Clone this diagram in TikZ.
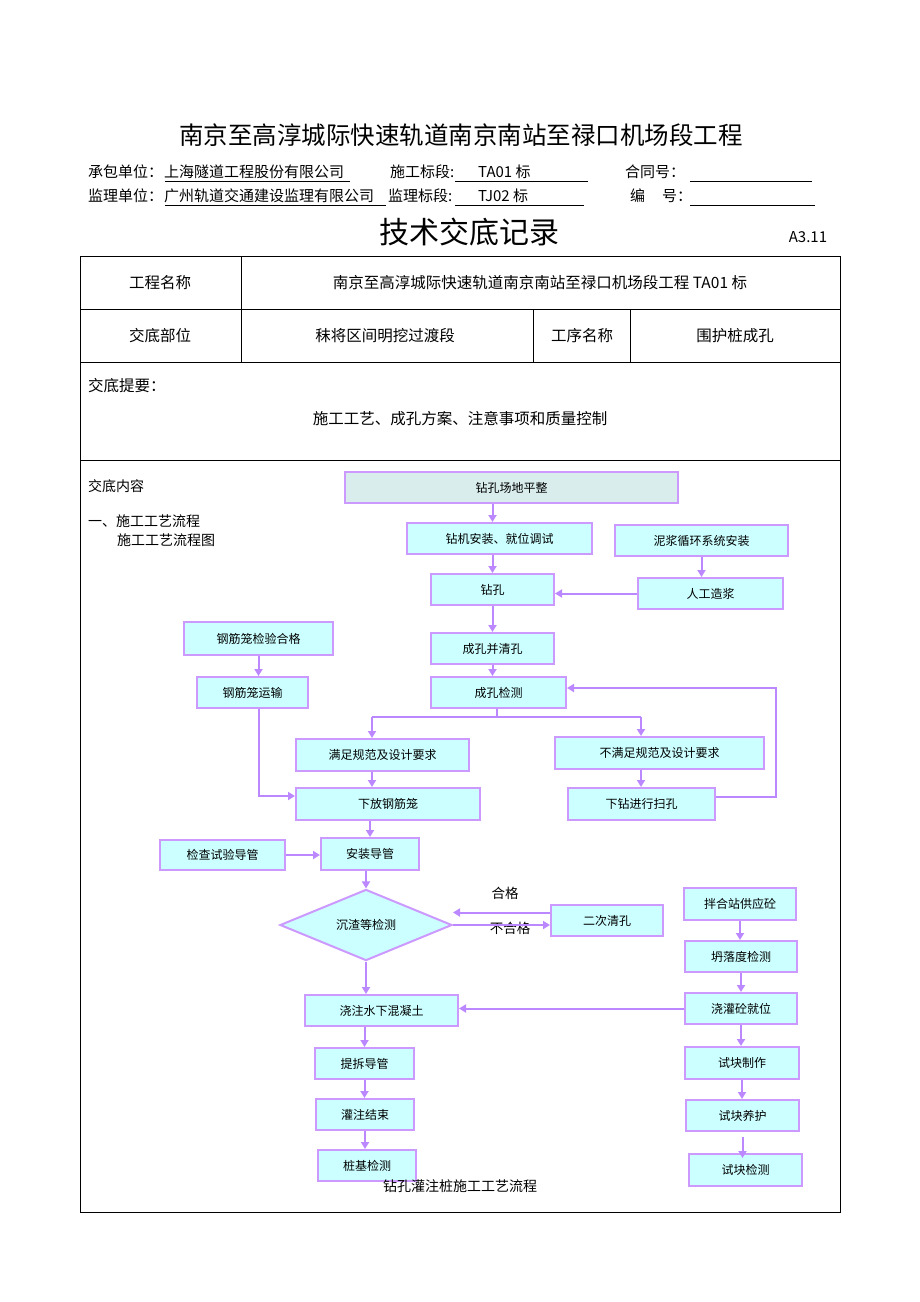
\documentclass[tikz,border=0pt]{standalone}
\usepackage{fontspec}
\setmainfont{Noto Sans CJK SC}
\usepackage{tikz}
\usetikzlibrary{arrows.meta,shapes.geometric}
\definecolor{boxfill}{HTML}{CCFFFF}
\definecolor{topfill}{HTML}{D9EDED}
\definecolor{boxline}{HTML}{CC99FF}
\definecolor{arrowline}{HTML}{BB88FF}
\tikzstyle{box}   = [draw=boxline,fill=boxfill,line width=2pt,inner sep=0pt,minimum height=31pt,font=\fontsize{12}{14}\selectfont]
\tikzstyle{arrow} = [line width=2pt,draw=arrowline,-{Triangle[length=7pt,width=8pt]}]
\tikzstyle{link}  = [line width=2pt,draw=arrowline]
\tikzstyle{cell}  = [font=\fontsize{15.5}{18}\selectfont]
\tikzstyle{head}  = [anchor=west,inner sep=0pt,font=\fontsize{15}{18}\selectfont]
\tikzstyle{note}  = [anchor=west,inner sep=0pt,font=\fontsize{14}{17}\selectfont]

\begin{document}
\begin{tikzpicture}[x=1pt,y=-1pt]
           \useasboundingbox (0,0) rectangle (920,1302);
           \fill[white] (0,0) rectangle (920,1302);
           \node[font=\fontsize{24.5}{28}\selectfont](title)at(461,135){南京至高淳城际快速轨道南京南站至禄口机场段工程};
           \node[head](h1)at(88,172){承包单位：};
           \node[head](h2)at(164,172){上海隧道工程股份有限公司};
           \node[head](h3)at(390,172){施工标段:};
           \node[head](h4)at(478,172){TA01 标};
           \node[head](h5)at(625,172){合同号：};
           \node[head](h6)at(88,196){监理单位：};
           \node[head](h7)at(164,196){广州轨道交通建设监理有限公司};
           \node[head](h8)at(388,196){监理标段:};
           \node[head](h9)at(478,196){TJ02 标};
           \node[head](h10)at(630,196){编\hspace{17pt}号：};
           \draw (165,181) -- (350,181);
           \draw (455,181) -- (588,181);
           \draw (690,181) -- (812,181);
           \draw (165,205) -- (386,205);
           \draw (455,205) -- (584,205);
           \draw (690,205) -- (815,205);
           \node[font=\fontsize{30}{34}\selectfont](t)at(469,232){技术交底记录};
           \node[font=\fontsize{15}{18}\selectfont](code)at(808,237){A3.11};

           \draw[line width=1pt] (80,256) rectangle (840,1212);
           \draw (80,309) -- (840,309);
           \draw (80,362) -- (840,362);
           \draw (80,460) -- (840,460);
           \draw (241,256) -- (241,362);
           \draw (533,309) -- (533,362);
           \draw (630,309) -- (630,362);
           \node[cell](c1)at(160,283){工程名称};
           \node[cell](c2)at(540,283){南京至高淳城际快速轨道南京南站至禄口机场段工程 TA01 标};
           \node[cell](c3)at(160,336){交底部位};
           \node[cell](c4)at(385,336){秣将区间明挖过渡段};
           \node[cell](c5)at(582,336){工序名称};
           \node[cell](c6)at(735,336){围护桩成孔};
           \node[cell,anchor=west,inner sep=0pt](c7)at(88,386){交底提要：};
           \node[cell](c8)at(460,419){施工工艺、成孔方案、注意事项和质量控制};
           \node[note](c9)at(88,486){交底内容};
           \node[note](c10)at(88,521){一、施工工艺流程};
           \node[note](c11)at(117,540){施工工艺流程图};

           \node[box,fill=topfill,minimum width=333pt](a)at(511.5,487.5){钻孔场地平整};
           \node[box,minimum width=185pt](b)at(499.5,538.5){钻机安装、就位调试};
           \node[box,minimum width=173pt](c)at(701.5,540.5){泥浆循环系统安装};
           \node[box,minimum width=123pt](d)at(492.5,589.5){钻孔};
           \node[box,minimum width=145pt](e)at(710.5,593.5){人工造浆};
           \node[box,minimum width=149pt,minimum height=33pt](f)at(258.5,638.5){钢筋笼检验合格};
           \node[box,minimum width=123pt](g)at(492.5,648.5){成孔并清孔};
           \node[box,minimum width=111pt](h)at(252.5,692.5){钢筋笼运输};
           \node[box,minimum width=135pt](i)at(498.5,692.5){成孔检测};
           \node[box,minimum width=173pt,minimum height=32pt](j)at(382.5,755){满足规范及设计要求};
           \node[box,minimum width=209pt,minimum height=32pt](k)at(659.5,753){不满足规范及设计要求};
           \node[box,minimum width=184pt,minimum height=32pt](l)at(388,804){下放钢筋笼};
           \node[box,minimum width=147pt,minimum height=32pt](m)at(641.5,804){下钻进行扫孔};
           \node[box,minimum width=125pt,minimum height=30pt](n)at(222.5,855){检查试验导管};
           \node[box,minimum width=98pt,minimum height=32pt](o)at(370,854){安装导管};
           \node[box,shape=diamond,minimum width=172pt,minimum height=60pt](p)at(366,925){沉渣等检测};
           \node[box,minimum width=112pt](q)at(607,920.5){二次清孔};
           \node[box,minimum width=112pt,minimum height=32pt](r)at(740,904){拌合站供应砼};
           \node[box,minimum width=112pt](s)at(741,956.5){坍落度检测};
           \node[box,minimum width=112pt](tt)at(741,1008.5){浇灌砼就位};
           \node[box,minimum width=153pt](u)at(381.5,1010.5){浇注水下混凝土};
           \node[box,minimum width=99pt](v)at(364.5,1063.5){提拆导管};
           \node[box,minimum width=98pt](w)at(365,1114.5){灌注结束};
           \node[box,minimum width=98pt](x)at(367,1165.5){桩基检测};
           \node[box,minimum width=114pt,minimum height=32pt](y)at(742,1063){试块制作};
           \node[box,minimum width=113pt](z)at(742.5,1115.5){试块养护};
           \node[box,minimum width=113pt,minimum height=32pt](za)at(745.5,1170){试块检测};
           \node[font=\fontsize{13.5}{16}\selectfont](ok)at(505,893){合格};
           \node[font=\fontsize{13.5}{16}\selectfont](nok)at(510,928){不合格};
           \node[font=\fontsize{14}{17}\selectfont](cap)at(460,1186){钻孔灌注桩施工工艺流程};
           \coordinate (s0) at (497,717);
           \coordinate (s1) at (372,717);
           \coordinate (s2) at (641,717);
           \coordinate (lp) at (776,688);

           \draw[arrow](a.south-|d)--(b.north-|d);
           \draw[arrow](b.south-|d)--(d.north);
           \draw[arrow](d.south)--(g.north);
           \draw[arrow](g.south)--(i.north-|g);
           \draw[arrow](c.south)--(c.south|-e.north);
           \draw[arrow](e.west)--(e.west-|d.east);
           \draw[arrow](f.south)--(f.south|-h.north);
           \draw[arrow](h.south-|f.south)|-([yshift=8pt]l.west);
           \draw[link](i.south-|s0)--(s0);
           \draw[link](s1)--(s2);
           \draw[arrow](s1)--(s1|-j.north);
           \draw[arrow](s2)--(s2|-k.north);
           \draw[arrow](j.south-|s1)--(l.north-|s1);
           \draw[arrow](k.south-|s2)--(m.north-|s2);
           \draw[arrow]([yshift=7pt]m.east)-|(lp)--(lp-|i.east);
           \draw[arrow](l.south-|o)--(o.north);
           \draw[arrow](n.east)--(n.east-|o.west);
           \draw[arrow](p.north|-o.south)--(p.north);
           \draw[arrow]([yshift=8pt]q.west)--([yshift=8pt]q.west-|p.east);
           \draw[arrow](p.east)--(q.west|-p.east);
           \draw[arrow](p.south)--(p.south|-u.north);
           \draw[arrow](r.south)--(r.south|-s.north);
           \draw[arrow](s.south)--(s.south|-tt.north);
           \draw[arrow](tt.west)--(tt.west-|u.east);
           \draw[arrow](u.south-|v)--(v.north);
           \draw[arrow](v.south)--(v.south|-w.north);
           \draw[arrow](w.south)--(w.south|-x.north);
           \draw[arrow](tt.south)--(tt.south|-y.north);
           \draw[arrow](y.south)--(y.south|-z.north);
           \draw[arrow]([yshift=-5pt]z.south)--([yshift=-5pt]z.south|-za.north);
\end{tikzpicture}
\end{document}
